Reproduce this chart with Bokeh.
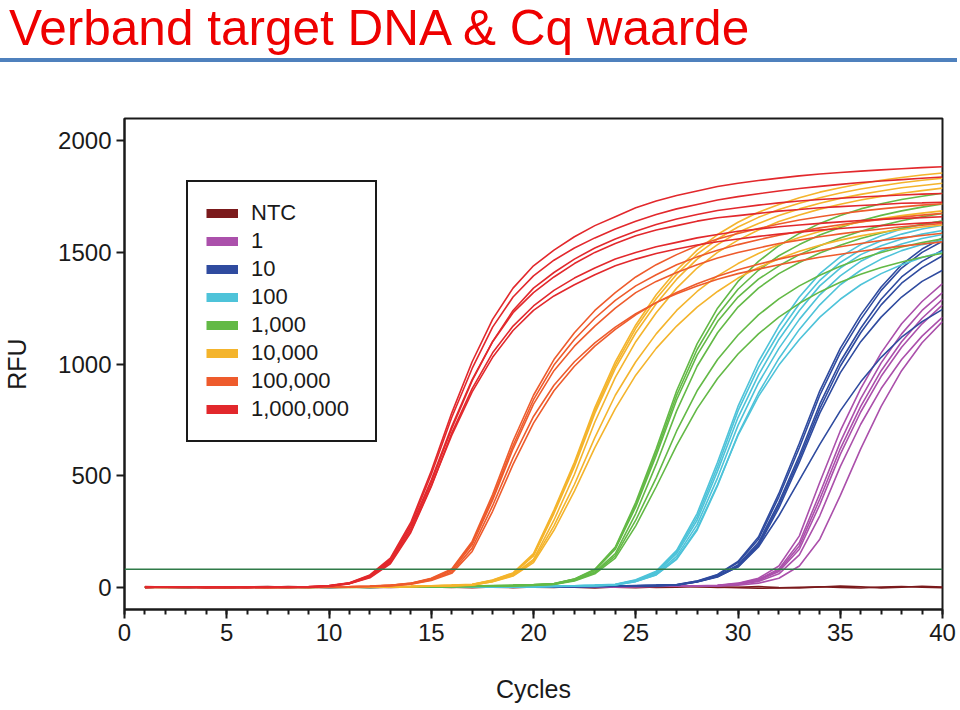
import html
from bokeh.plotting import figure
from bokeh.models import (Range1d, FixedTicker, SingleIntervalTicker, Span, Legend, LegendItem, Div)
from bokeh.layouts import column
from bokeh.embed import file_html
from bokeh.resources import INLINE

title_text = "Verband target DNA & Cq waarde"
x_label = "Cycles"
y_label = "RFU"
rfu_ticks = [0, 500, 1000, 1500, 2000]
threshold = 80

cycles = [1, 2, 3, 4, 5, 6, 7, 8, 9, 10,
          11, 12, 13, 14, 15, 16, 17, 18, 19, 20,
          21, 22, 23, 24, 25, 26, 27, 28, 29, 30,
          31, 32, 33, 34, 35, 36, 37, 38, 39, 40]

series_labels = ["NTC", "1", "10", "100", "1,000", "10,000", "100,000", "1,000,000"]
series_colors = ["#7b1a1c", "#ab50ab", "#2f4b9f", "#4ec3d9", "#63b946", "#f4b42c", "#ee5b2c", "#e2282c"]

rfu_ntc = [
    [2, 0, -3, 1, 2, -1, 0, 3, 1, -2, 0, 2, -1, 1, 3, 0, -2, 1, 2, 0,
     -1, 3, 1, 0, -2, 1, 4, 2, -1, 0, 3, -2, -4, 1, 5, 2, -3, 0, 4, 1],
    [-1, 1, 2, 0, -2, 1, 3, 0, -1, 2, 1, -2, 0, 2, 1, -1, 3, 0, -2, 1,
     2, 0, -3, 1, 2, -1, 0, 3, 1, -2, -5, -3, 0, 2, -1, -4, 1, 3, 0, -2],
]

rfu_1 = [
    [0, 1, -1, 0, 1, 2, 0, 1, 0, -1, 1, 0, 2, 1, 0, 1, 1, 2, 0, 1,
     2, 1, 2, 3, 3, 4, 5, 6, 8, 18, 40, 95, 230, 470, 700, 890, 1050, 1180, 1280, 1360],
    [1, 0, 0, 1, -1, 0, 2, 1, 0, 1, 0, 1, 1, 2, 0, 1, 0, 1, 2, 1,
     1, 2, 3, 2, 4, 4, 5, 6, 7, 16, 35, 82, 200, 420, 650, 845, 1005, 1135, 1240, 1320],
    [-1, 1, 0, 0, 1, 1, 0, 2, 1, 0, 1, 0, 1, 0, 2, 1, 2, 0, 1, 1,
     2, 1, 2, 3, 3, 5, 4, 6, 7, 14, 30, 70, 170, 370, 595, 785, 945, 1075, 1180, 1265],
    [0, 0, 1, -1, 0, 1, 1, 0, 1, 2, 0, 1, 0, 1, 1, 0, 2, 1, 1, 0,
     2, 2, 1, 3, 4, 3, 5, 5, 6, 12, 26, 60, 145, 320, 540, 730, 890, 1020, 1125, 1210],
    [1, 0, -1, 1, 0, 0, 1, 2, 0, 1, 1, 0, 2, 1, 0, 1, 1, 0, 2, 1,
     1, 2, 2, 3, 2, 4, 4, 5, 5, 9, 18, 40, 95, 215, 410, 620, 810, 970, 1095, 1190],
    [0, 1, 1, 0, -1, 1, 0, 1, 1, 0, 2, 1, 0, 1, 1, 2, 0, 1, 1, 2,
     1, 3, 2, 3, 4, 4, 5, 6, 7, 15, 32, 76, 185, 395, 620, 810, 970, 1100, 1205, 1290],
]

rfu_10 = [
    [1, 0, -1, 1, 0, 2, 1, 0, -1, 1, 0, 1, 2, 0, 1, 1, 0, 2, 1, 0,
     2, 3, 3, 4, 6, 7, 10, 25, 50, 100, 200, 380, 590, 820, 1010, 1160, 1290, 1390, 1460, 1510],
    [0, 1, 1, 0, -1, 0, 2, 1, 0, 1, 1, 0, 1, 2, 0, 1, 2, 1, 0, 2,
     2, 3, 4, 5, 6, 8, 11, 27, 55, 110, 215, 405, 625, 860, 1050, 1200, 1330, 1430, 1500, 1550],
    [-1, 1, 0, 2, 0, 1, 0, -1, 1, 0, 2, 1, 0, 1, 1, 0, 1, 2, 1, 1,
     2, 2, 3, 4, 5, 7, 9, 23, 46, 92, 185, 355, 560, 780, 960, 1100, 1210, 1300, 1370, 1420],
    [0, 0, 1, -1, 1, 0, 1, 2, 0, 1, 0, 2, 1, 1, 0, 1, 1, 0, 2, 1,
     3, 2, 4, 4, 6, 7, 10, 24, 48, 96, 192, 368, 575, 800, 990, 1140, 1265, 1362, 1432, 1485],
    [1, 1, 0, 0, 2, -1, 0, 1, 1, 0, 1, 1, 0, 2, 1, 0, 2, 1, 1, 2,
     2, 4, 3, 5, 7, 9, 12, 28, 57, 115, 225, 420, 645, 880, 1070, 1220, 1345, 1445, 1515, 1565],
    [0, 1, 0, 1, -1, 1, 0, 0, 2, 1, 0, 1, 1, 0, 2, 1, 1, 2, 0, 1,
     2, 3, 3, 4, 6, 8, 10, 24, 48, 90, 180, 320, 480, 640, 790, 920, 1030, 1120, 1190, 1245],
]

rfu_100 = [
    [0, 1, 0, -1, 1, 2, 0, -1, 0, 1, 1, 0, 2, 1, 0, 1, 2, 1, 3, 2,
     4, 6, 8, 12, 30, 65, 150, 300, 520, 760, 950, 1110, 1240, 1350, 1430, 1490, 1530, 1560, 1582, 1598],
    [1, 0, -1, 1, 0, 1, 2, 0, 1, -1, 0, 2, 1, 0, 1, 2, 1, 2, 2, 3,
     5, 6, 9, 13, 33, 72, 165, 330, 560, 810, 1010, 1170, 1300, 1405, 1480, 1535, 1575, 1605, 1625, 1640],
    [-1, 0, 1, 0, 2, 0, 1, -1, 0, 1, 2, 1, 0, 1, 2, 0, 1, 2, 2, 3,
     4, 5, 7, 11, 28, 60, 138, 280, 490, 725, 915, 1070, 1200, 1310, 1395, 1460, 1505, 1538, 1562, 1580],
    [0, 2, 0, 1, -1, 0, 1, 0, 2, 0, 1, -1, 1, 2, 0, 1, 1, 2, 1, 2,
     3, 5, 6, 10, 25, 55, 125, 255, 455, 685, 870, 1025, 1155, 1265, 1355, 1420, 1470, 1508, 1535, 1555],
    [1, -1, 0, 0, 1, 1, 0, 2, -1, 1, 0, 1, 2, 0, 1, 2, 0, 1, 2, 2,
     3, 4, 7, 10, 26, 56, 128, 262, 460, 680, 855, 995, 1110, 1210, 1290, 1355, 1405, 1445, 1477, 1503],
    [0, 0, 1, 2, 0, -1, 1, 1, 0, 2, 1, 0, 1, 1, 2, 0, 2, 1, 3, 2,
     4, 6, 8, 12, 31, 68, 158, 315, 540, 790, 985, 1140, 1270, 1375, 1455, 1512, 1552, 1582, 1605, 1622],
]

rfu_1000 = [
    [0, 1, -1, 2, 0, 1, -1, 0, 1, 2, 0, -1, 1, 2, 1, 3, 4, 6, 8, 11,
     15, 35, 75, 170, 360, 590, 840, 1040, 1190, 1300, 1380, 1440, 1490, 1530, 1565, 1595, 1620, 1642, 1660, 1675],
    [1, 0, 2, 0, -1, 0, 1, 2, 0, 1, -1, 0, 2, 1, 2, 3, 5, 7, 9, 12,
     16, 37, 80, 180, 380, 620, 880, 1090, 1250, 1370, 1460, 1530, 1585, 1630, 1665, 1695, 1718, 1737, 1752, 1765],
    [-1, 1, 0, 1, 2, 0, -1, 1, 0, 0, 1, 2, 0, 1, 3, 2, 4, 5, 7, 10,
     13, 31, 68, 150, 330, 550, 790, 990, 1140, 1255, 1340, 1405, 1455, 1497, 1532, 1562, 1587, 1608, 1626, 1641],
    [2, 0, 1, -1, 0, 1, 0, -1, 2, 1, 0, 1, 1, 2, 2, 3, 3, 5, 7, 9,
     13, 30, 64, 140, 300, 490, 700, 880, 1020, 1130, 1220, 1292, 1350, 1398, 1438, 1472, 1500, 1524, 1544, 1561],
    [0, -1, 1, 0, 2, 1, 0, 1, -1, 0, 2, 1, 0, 1, 2, 2, 3, 4, 6, 8,
     12, 28, 60, 130, 275, 450, 635, 800, 935, 1045, 1135, 1210, 1272, 1323, 1366, 1402, 1432, 1457, 1478, 1496],
    [1, 1, 0, -1, 1, 0, 2, 0, 1, -1, 0, 1, 2, 1, 2, 4, 4, 6, 8, 11,
     15, 36, 77, 175, 370, 605, 860, 1065, 1220, 1335, 1420, 1485, 1535, 1578, 1612, 1642, 1666, 1686, 1703, 1717],
]

rfu_10000 = [
    [1, -1, 0, 2, 1, -1, 0, 1, 2, 0, -1, 1, 2, 3, 5, 8, 12, 30, 60, 140,
     330, 540, 780, 980, 1140, 1270, 1380, 1470, 1535, 1590, 1630, 1665, 1695, 1720, 1742, 1760, 1775, 1790, 1800, 1810],
    [0, 1, 2, 0, -1, 1, 0, -1, 1, 2, 0, 1, 3, 4, 6, 9, 13, 32, 64, 150,
     345, 560, 805, 1010, 1175, 1310, 1420, 1510, 1580, 1635, 1680, 1715, 1745, 1770, 1790, 1808, 1823, 1836, 1847, 1856],
    [-1, 0, 1, 1, -1, 0, 2, 0, -1, 1, 1, 0, 2, 3, 4, 7, 10, 27, 55, 125,
     300, 505, 740, 940, 1100, 1230, 1340, 1430, 1500, 1555, 1600, 1638, 1668, 1694, 1716, 1735, 1751, 1765, 1777, 1788],
    [2, 0, -1, 0, 1, 1, -1, 0, 2, 1, 0, 2, 1, 3, 5, 7, 10, 25, 52, 118,
     275, 460, 670, 860, 1010, 1135, 1240, 1325, 1395, 1450, 1495, 1535, 1567, 1594, 1617, 1636, 1652, 1665, 1676, 1686],
    [0, 2, 1, -1, 0, 0, 1, -1, 0, 1, 2, 1, 2, 2, 4, 6, 9, 24, 50, 110,
     255, 430, 625, 800, 950, 1070, 1170, 1255, 1325, 1385, 1432, 1472, 1505, 1532, 1555, 1574, 1590, 1603, 1614, 1623],
    [1, 0, 0, 1, -1, 2, 1, 0, -1, 0, 1, 2, 1, 3, 6, 8, 12, 31, 62, 145,
     338, 552, 792, 995, 1160, 1292, 1402, 1492, 1560, 1614, 1657, 1692, 1720, 1745, 1766, 1784, 1799, 1812, 1823, 1832],
]

rfu_100000 = [
    [1, 0, -1, 2, 1, 0, -2, -1, 0, 1, 2, 4, 8, 16, 36, 75, 190, 390, 620, 820,
     970, 1080, 1170, 1250, 1320, 1370, 1410, 1445, 1475, 1500, 1520, 1540, 1555, 1570, 1583, 1595, 1605, 1615, 1622, 1630],
    [0, 1, 2, 0, -1, -2, 0, 1, 0, 2, 3, 5, 9, 18, 40, 82, 205, 415, 655, 860,
     1020, 1140, 1240, 1320, 1390, 1445, 1490, 1530, 1560, 1585, 1607, 1627, 1645, 1660, 1673, 1685, 1695, 1704, 1712, 1718],
    [-1, 0, 1, 1, 0, -1, 1, 0, -1, 0, 2, 3, 7, 14, 32, 68, 175, 365, 580, 765,
     905, 1010, 1095, 1165, 1225, 1275, 1315, 1350, 1380, 1405, 1425, 1445, 1462, 1478, 1492, 1505, 1517, 1528, 1538, 1547],
    [2, 1, 0, -1, 0, 1, 0, -1, 1, 1, 2, 4, 8, 17, 38, 78, 198, 400, 635, 840,
     995, 1110, 1205, 1285, 1350, 1400, 1445, 1480, 1510, 1535, 1557, 1577, 1594, 1610, 1624, 1637, 1648, 1658, 1667, 1675],
    [0, -1, 0, 1, 2, 0, -1, 0, 0, 1, 1, 3, 6, 13, 30, 62, 160, 340, 550, 735,
     880, 990, 1080, 1155, 1220, 1275, 1320, 1360, 1393, 1422, 1447, 1470, 1490, 1508, 1525, 1540, 1553, 1565, 1576, 1586],
]

rfu_1000000 = [
    [3, 1, 0, -2, -1, 0, 1, 2, 3, 6, 18, 50, 120, 270, 480, 720, 930, 1100, 1230, 1320,
     1390, 1450, 1500, 1540, 1575, 1600, 1620, 1640, 1655, 1665, 1675, 1685, 1692, 1700, 1705, 1710, 1715, 1720, 1722, 1725],
    [-2, 0, 2, 1, -1, -2, 0, 1, 2, 5, 15, 42, 105, 245, 450, 690, 890, 1050, 1170, 1260,
     1330, 1385, 1430, 1470, 1500, 1525, 1545, 1565, 1580, 1595, 1605, 1615, 1623, 1630, 1637, 1643, 1648, 1652, 1656, 1660],
    [1, -1, 0, 2, 0, -1, -2, 0, 2, 7, 20, 55, 130, 290, 520, 780, 1010, 1200, 1340, 1440,
     1510, 1570, 1620, 1660, 1700, 1730, 1755, 1775, 1795, 1810, 1822, 1833, 1843, 1851, 1858, 1864, 1870, 1875, 1880, 1884],
    [0, 2, 1, -1, -2, 0, 1, -1, 1, 6, 19, 52, 125, 280, 505, 760, 980, 1165, 1300, 1395,
     1465, 1520, 1565, 1605, 1640, 1670, 1695, 1715, 1735, 1750, 1763, 1775, 1786, 1796, 1805, 1813, 1820, 1826, 1832, 1838],
    [2, 0, -1, 0, 1, 2, 0, -1, 0, 5, 17, 47, 115, 260, 470, 710, 925, 1100, 1240, 1340,
     1410, 1470, 1520, 1560, 1595, 1625, 1650, 1670, 1688, 1700, 1712, 1722, 1730, 1737, 1743, 1748, 1753, 1757, 1761, 1764],
    [-1, 1, 0, -2, 0, 1, 2, 0, -1, 4, 16, 45, 110, 250, 455, 680, 875, 1030, 1150, 1240,
     1305, 1355, 1400, 1440, 1470, 1495, 1515, 1533, 1548, 1560, 1572, 1582, 1591, 1600, 1607, 1614, 1620, 1626, 1631, 1636],
]

groups = [rfu_ntc, rfu_1, rfu_10, rfu_100, rfu_1000, rfu_10000, rfu_100000, rfu_1000000]

FONT = "Liberation Sans"
INK = "#1a1a1a"

W = 960
HEADER_H = 62
PLOT_H = 710 - HEADER_H

# ---------- header: slide title + blue rule ----------
header_html = (
    '<div style="position:relative;width:960px;height:62px;margin:0;padding:0;">'
    '<div style="position:absolute;left:9px;top:0px;font-family:\'Liberation Sans\',sans-serif;'
    'font-size:49.5px;line-height:56px;color:#ee0000;white-space:nowrap;">'
    + html.escape(title_text) +
    '</div>'
    '<div style="position:absolute;left:0px;top:58px;width:957px;height:4px;'
    'background:#4f81bd;"></div>'
    '</div>'
)
header = Div(text=header_html, width=W, height=HEADER_H, margin=0)

# ---------- main chart ----------
p = figure(width=W, height=PLOT_H, x_range=Range1d(0, 40), y_range=Range1d(-100, 2100),
           output_backend="svg", toolbar_location=None,
           min_border_left=123, min_border_right=18, min_border_top=118 - HEADER_H,
           min_border_bottom=710 - 609, margin=0)
p.grid.visible = False
p.outline_line_color = INK
p.outline_line_width = 2
p.outline_line_alpha = 1.0
p.background_fill_color = "white"

p.xaxis.ticker = SingleIntervalTicker(interval=5, num_minor_ticks=5)
p.yaxis.ticker = FixedTicker(ticks=rfu_ticks)
p.xaxis.axis_label = x_label
p.yaxis.axis_label = y_label
for ax in p.axis:
    ax.axis_line_color = INK
    ax.axis_line_width = 2
    ax.major_tick_line_color = INK
    ax.major_tick_line_width = 2
    ax.major_tick_in = 0
    ax.minor_tick_in = 0
    ax.major_label_text_font = FONT
    ax.major_label_text_font_size = "24px"
    ax.major_label_text_color = INK
    ax.axis_label_text_font = FONT
    ax.axis_label_text_font_size = "25px"
    ax.axis_label_text_font_style = "normal"
    ax.axis_label_text_color = INK
p.xaxis.major_tick_out = 9
p.xaxis.minor_tick_out = 5
p.xaxis.minor_tick_line_color = INK
p.xaxis.minor_tick_line_width = 2
p.xaxis.major_label_standoff = 5
p.xaxis.axis_label_standoff = 31
p.yaxis.major_tick_out = 8
p.yaxis.minor_tick_line_color = None
p.yaxis.major_label_standoff = 5
p.yaxis.axis_label_standoff = 24

p.add_layout(Span(location=threshold, dimension="width", line_color="#2f7a48", line_width=1.5))

for reps, color in zip(groups, series_colors):
    for rep in reps:
        p.line(cycles, rep, line_color=color, line_width=1.6)

items = []
for label, color in zip(series_labels, series_colors):
    r = p.line(x=[float("nan")], y=[float("nan")], line_color=color, line_width=9)
    items.append(LegendItem(label=label, renderers=[r]))

legend = Legend(items=items, location=(62, 167), glyph_width=32, glyph_height=24,
                label_height=24, label_width=106, label_standoff=13, spacing=2,
                padding=18, margin=0, border_line_color=INK, border_line_width=2,
                border_line_alpha=1.0,
                background_fill_color="white", background_fill_alpha=1.0,
                label_text_font=FONT, label_text_font_size="22px", label_text_color=INK)
p.add_layout(legend)

layout = column(header, p, spacing=0)
open("out.html", "w").write(file_html(layout, INLINE))
